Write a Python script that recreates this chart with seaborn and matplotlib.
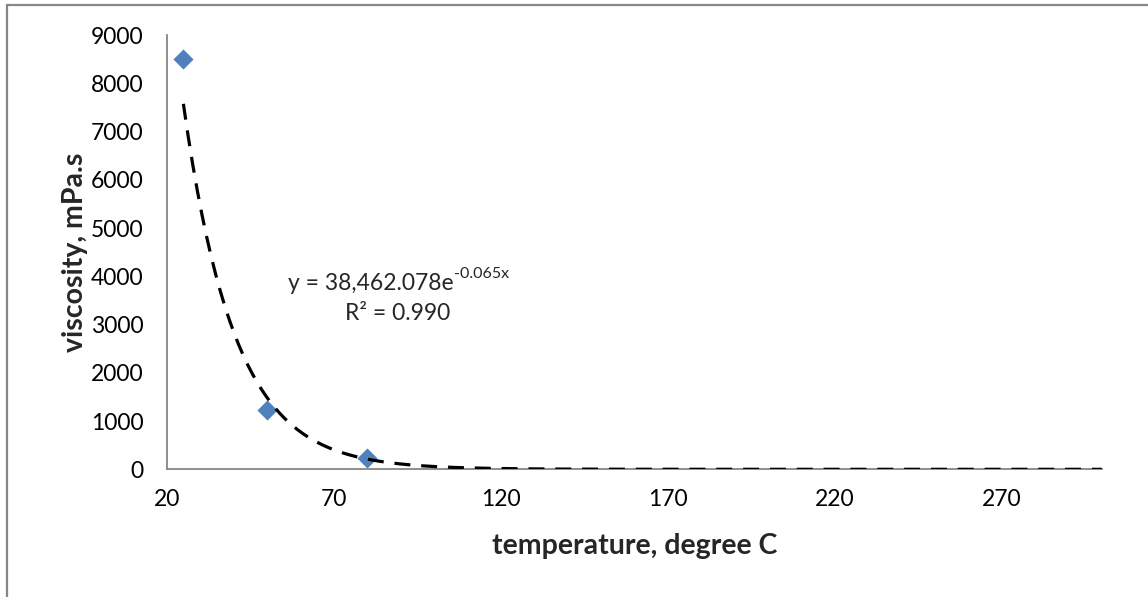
import numpy as np
import pandas as pd
import matplotlib
matplotlib.use("Agg")
import matplotlib.pyplot as plt
import seaborn as sns
from matplotlib.patches import Rectangle

# ---- data ----
temperature = [25, 50, 80]
viscosity = [8500, 1230, 240]
trend_a = 38462.078
trend_b = -0.065
x_ticks = [20, 70, 120, 170, 220, 270]
y_ticks = [0, 1000, 2000, 3000, 4000, 5000, 6000, 7000, 8000, 9000]
equation_main = "y = 38,462.078e"
equation_sup = "-0.065x"
r2_label = "R² = 0.990"
x_label = "temperature, degree C"
y_label = "viscosity, mPa.s"

sns.set_theme(style="white")
plt.rcParams['font.family'] = ['Lato', 'DejaVu Sans']

fig = plt.figure(figsize=(11.48, 5.97), dpi=100)
ax = fig.add_axes([166.7/1148, 1-469.3/597, (1101.7-166.7)/1148, (469.3-35)/597])

df = pd.DataFrame({"temperature": temperature, "viscosity": viscosity})
xs = np.linspace(min(temperature), 300, 400)
trend = pd.DataFrame({"x": xs, "y": trend_a*np.exp(trend_b*xs)})

sns.lineplot(data=trend, x="x", y="y", ax=ax, color="black", linewidth=2.3, zorder=3)
ax.lines[-1].set_dashes((5.0, 3.4))
ax.lines[-1].set_dash_capstyle('butt')
sns.scatterplot(data=df, x="temperature", y="viscosity", ax=ax, marker="D",
                s=105, color="#4F81BD", edgecolor="#4F81BD", linewidth=0, zorder=2)

ax.set_xlim(20, 300)
ax.set_ylim(0, 9000)
ax.set_xticks(x_ticks)
ax.set_yticks(y_ticks)
ax.set_xticklabels([str(v) for v in x_ticks])
ax.set_yticklabels([str(v) for v in y_ticks])
for s in ["top", "right"]:
    ax.spines[s].set_visible(False)
for s in ["left", "bottom"]:
    ax.spines[s].set_color("#868686")
    ax.spines[s].set_linewidth(1.3)
ax.tick_params(axis="both", direction="out", length=5.5, width=1.3, color="#868686",
               labelsize=16.5, labelcolor="black")
ax.tick_params(axis="y", pad=11)
ax.tick_params(axis="x", pad=9)
ax.set_xlabel(x_label, fontsize=20.5, fontweight="bold", labelpad=16)
ax.set_ylabel(y_label, fontsize=20.5, fontweight="bold", labelpad=2)

t_main = fig.text(288/1148, 1-284/597, equation_main, ha="left", va="center", fontsize=16.5)
ax.annotate(equation_sup, xy=(1.0, 0.62), xycoords=t_main, ha="left", va="bottom",
            fontsize=11.5)
fig.text(398/1148, 1-314/597, r2_label, ha="center", va="center", fontsize=16.5)

fig.patches.append(Rectangle((7/1148, -0.1), 1.2, 1-5/597+0.1, transform=fig.transFigure,
                             fill=False, edgecolor="#878787", linewidth=1.6))

fig.savefig("out.png", dpi=100, facecolor="white")
